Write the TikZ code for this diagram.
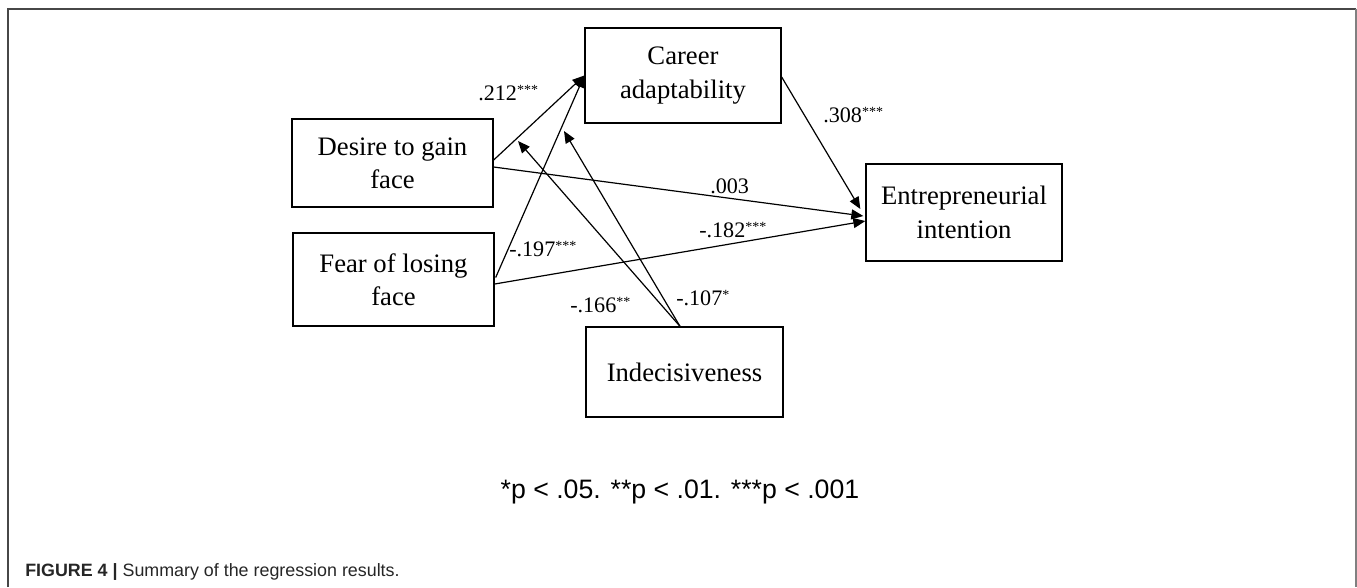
\documentclass[tikz,border=0pt]{standalone}
\usepackage{fontspec}
\setmainfont{Liberation Serif}
\newfontfamily\arialfont{Liberation Sans}
\usetikzlibrary{arrows.meta,calc}
\newcommand\mystars[1]{\raisebox{4.2pt}{\fontsize{10.5}{10.5}\selectfont #1}}
\begin{document}
\begin{tikzpicture}[x=0.75pt,y=-0.75pt,
  box/.style={draw, line width=1pt, align=center, inner sep=0pt,
    font=\fontsize{20}{25}\selectfont},
  link/.style={line width=0.9pt, -{Triangle[length=9pt,width=7.5pt]}},
  coef/.style={anchor=base west, inner sep=0pt, font=\fontsize{16.6}{18}\selectfont}]
\useasboundingbox (0,0) rectangle (1357,587);
\draw[line width=1.5pt, color=black!72] (8,587) -- (8,8.5) -- (1356,8.5);
\draw[line width=1.5pt, color=black!50] (1356,8.5) -- (1356,587);

\node[box, minimum width=147pt, minimum height=71.25pt] (career) at (683,75.5) {Career\\adaptability};
\node[box, minimum width=150.75pt, minimum height=66pt] (desire) at (392.5,163) {Desire to gain\\face};
\node[box, minimum width=150.75pt, minimum height=69.75pt] (fear) at (393.5,279.5) {Fear of losing\\face};
\node[box, minimum width=147pt, minimum height=72.75pt] (entre) at (964,212.5) {Entrepreneurial\\intention};
\node[box, minimum width=147.75pt, minimum height=67.5pt] (indec) at (684.5,372) {Indecisiveness};

\coordinate (m1) at (518,141);
\coordinate (m2) at (564,131);

\draw[link] ($(desire.east)+(0,-3)$) -- (career.west);
\draw[link] ($(fear.east)+(1,-2)$) -- (career.west);
\draw[link] ($(career.east)+(0,1.5)$) -- ($(entre.west)+(-5,-3.5)$);
\draw[link] ($(desire.east)+(0,4)$) -- ($(entre.west)+(-2,3.5)$);
\draw[link] ($(fear.east)+(0,4.5)$) -- ($(entre.west)+(0,8.5)$);
\draw[link] ($(indec.north)+(-4.5,0)$) -- (m1);
\draw[link] ($(indec.north)+(-4.5,0)$) -- (m2);

\node[coef] (l1) at (478,100) {.212\mystars{***}};
\node[coef] (l2) at (509,256) {-.197\mystars{***}};
\node[coef] (l3) at (570,312) {-.166\mystars{**}};
\node[coef] (l4) at (676,305) {-.107\mystars{*}};
\node[coef] (l5) at (823,122) {.308\mystars{***}};
\node[coef] (l6) at (710,193) {.003};
\node[coef] (l7) at (699,237) {-.182\mystars{***}};

\node[font=\arialfont\fontsize{20}{24}\selectfont, inner sep=0pt] (note) at (680,492) {*p < .05. **p < .01. ***p < .001};
\node[anchor=base west, inner sep=0pt, text=black!85, font=\arialfont\fontsize{13.4}{16}\selectfont] (cap) at (25,576) {\textbf{FIGURE 4 |} Summary of the regression results.};
\end{tikzpicture}
\end{document}
